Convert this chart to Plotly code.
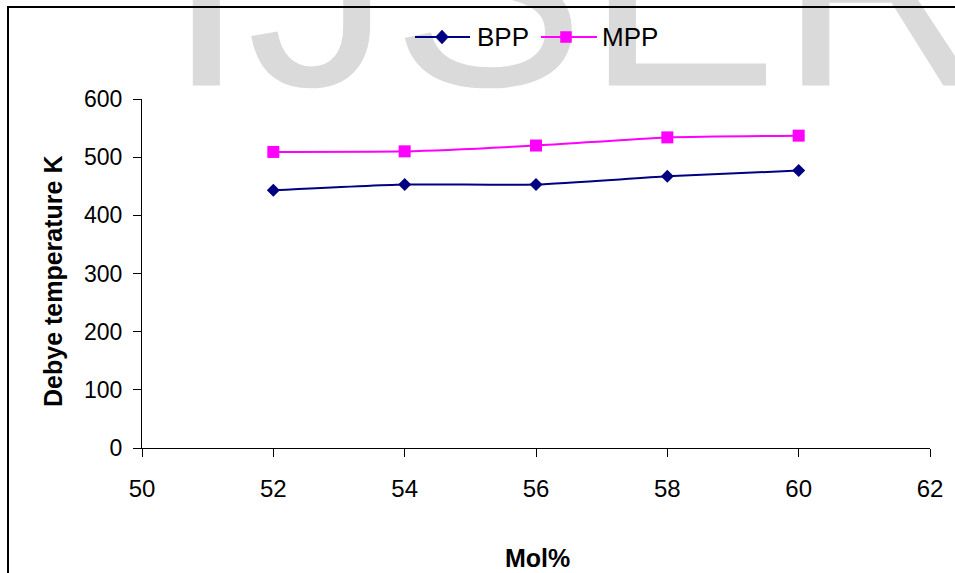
import plotly.graph_objects as go

# ---- data ----
mol_percent = [52, 54, 56, 58, 60]
bpp = [443, 453, 453, 467, 477]
mpp = [509, 510, 520, 534, 537]
x_ticks = [50, 52, 54, 56, 58, 60, 62]
y_ticks = [0, 100, 200, 300, 400, 500, 600]
series_names = ["BPP", "MPP"]
series_colors = ["#000080", "#FF00FF"]

# ---- layout geometry (pixels) ----
W, H = 955, 573
PL, PR, PT, PB = 142, 930, 99, 448   # plot area edges in pixels

def fx(px):
    return px / W

def fy(py):
    return 1 - py / H

FONT = "Liberation Sans, Arial, sans-serif"

fig = go.Figure()

# decorative watermark, on an invisible full-figure pixel axis
fig.add_trace(go.Scatter(
    x=[577], y=[13], xaxis="x2", yaxis="y2",
    mode="text", text=["IJSER"],
    textfont=dict(family=FONT, size=290, color="#dadada"),
    textposition="middle center",
    cliponaxis=False, showlegend=False, hoverinfo="skip",
))

fig.add_trace(go.Scatter(
    x=mol_percent, y=bpp, name=series_names[0], mode="lines+markers",
    line=dict(color=series_colors[0], width=2, shape="spline", smoothing=0.6),
    marker=dict(symbol="diamond", size=10, color=series_colors[0]),
    showlegend=False,
))
fig.add_trace(go.Scatter(
    x=mol_percent, y=mpp, name=series_names[1], mode="lines+markers",
    line=dict(color=series_colors[1], width=2, shape="spline", smoothing=0.6),
    marker=dict(symbol="square", size=12, color=series_colors[1]),
    showlegend=False,
))

axis_common = dict(
    showgrid=False, zeroline=False, showline=True, linecolor="black",
    linewidth=1, ticks="outside", ticklen=8, tickcolor="black",
    automargin=False,
)

fig.update_layout(
    xaxis=dict(
        domain=[fx(PL), fx(PR)], range=[50, 62], tickvals=x_ticks,
        ticktext=[str(v) for v in x_ticks], ticklabelstandoff=11,
        tickfont=dict(family=FONT, size=24, color="black"), **axis_common,
    ),
    yaxis=dict(
        domain=[fy(PB), fy(PT)], range=[0, 600], tickvals=y_ticks,
        ticktext=[str(v) for v in y_ticks], ticklabelstandoff=6,
        tickfont=dict(family=FONT, size=23, color="black"), **axis_common,
    ),
    xaxis2=dict(domain=[0, 1], range=[0, W], visible=False, fixedrange=True,
                automargin=False),
    yaxis2=dict(domain=[0, 1], range=[H, 0], visible=False, fixedrange=True,
                anchor="x2", automargin=False),
)

fig.add_annotation(
    text="<b>Mol%</b>", xref="paper", yref="paper",
    x=fx(537), y=fy(558), xanchor="center", yanchor="middle",
    showarrow=False, font=dict(family=FONT, size=25, color="black"),
)
fig.add_annotation(
    text="<b>Debye temperature K</b>", xref="paper", yref="paper",
    x=fx(53), y=fy(282), textangle=-90, xanchor="center", yanchor="middle",
    showarrow=False, font=dict(family=FONT, size=25, color="black"),
)

# legend drawn by hand (line sample + marker + label)
leg_y = 37
leg_items = [(415, 470, 442, 477), (541, 597, 566, 602)]
for (lx0, lx1, mx, tx), name, col in zip(leg_items, series_names, series_colors):
    fig.add_shape(type="line", xref="paper", yref="paper",
                  x0=fx(lx0), x1=fx(lx1), y0=fy(leg_y), y1=fy(leg_y),
                  line=dict(color=col, width=2), layer="above")
    if name == "BPP":
        d = 6.5
        path = (f"M {fx(mx - d)} {fy(leg_y)} L {fx(mx)} {fy(leg_y - d - 0.5)} "
                f"L {fx(mx + d)} {fy(leg_y)} L {fx(mx)} {fy(leg_y + d + 0.5)} Z")
        fig.add_shape(type="path", xref="paper", yref="paper", path=path,
                      fillcolor=col, line=dict(color=col, width=0.5), layer="above")
    else:
        s = 5.5
        fig.add_shape(type="rect", xref="paper", yref="paper",
                      x0=fx(mx - s), x1=fx(mx + s), y0=fy(leg_y + s), y1=fy(leg_y - s),
                      fillcolor=col, line=dict(color=col, width=0.5), layer="above")
    fig.add_annotation(text=name, xref="paper", yref="paper",
                       x=fx(tx - 2), y=fy(leg_y), xanchor="left", yanchor="middle",
                       showarrow=False,
                       font=dict(family=FONT, size=26, color="black"))

# chart border
fig.add_shape(
    type="rect", xref="paper", yref="paper",
    x0=fx(8), y0=fy(620), x1=fx(1010), y1=fy(7),
    line=dict(color="black", width=2), fillcolor="rgba(0,0,0,0)",
    layer="above",
)

fig.update_layout(
    width=W, height=H,
    margin=dict(l=0, r=0, t=0, b=0, pad=0, autoexpand=False),
    paper_bgcolor="white", plot_bgcolor="rgba(0,0,0,0)",
    font=dict(family=FONT, color="black"),
    showlegend=False,
)

fig.write_html("out.html")
